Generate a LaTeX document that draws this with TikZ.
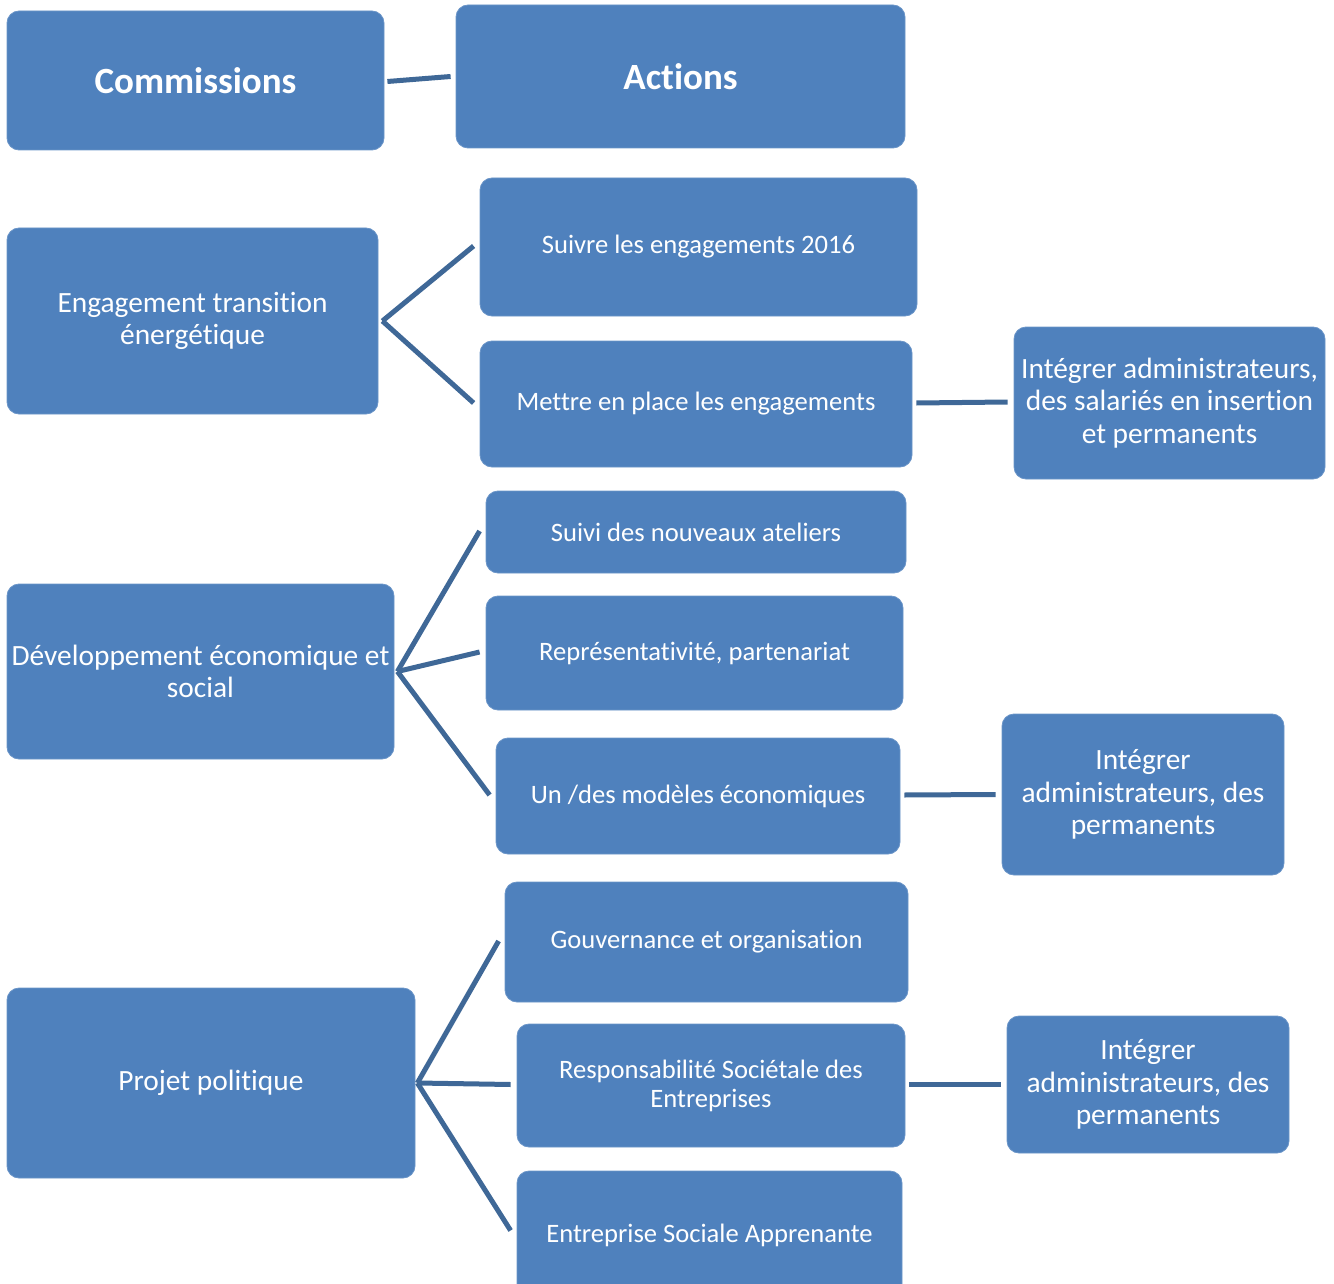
\documentclass[tikz,border=0pt]{standalone}
\usepackage{fontspec}
\setmainfont[Ligatures=NoCommon]{Carlito}
\definecolor{boxblue}{HTML}{4F81BD}
\definecolor{boxedge}{HTML}{6B95C8}
\definecolor{lineblue}{HTML}{3F6897}
\begin{document}
\begin{tikzpicture}[x=1pt,y=-1pt,
  box/.style={rounded corners=12pt, fill=boxblue, draw=boxedge, line width=0.8pt,
    text=white, align=center, inner sep=2pt, font=\fontsize{26.6}{33}\selectfont},
  bigbox/.style={box, font=\fontsize{29.4}{32.5}\selectfont},
  titlebox/.style={box, font=\fontsize{37}{44}\selectfont\bfseries},
  conn/.style={draw=lineblue, line width=5pt}]
\useasboundingbox (0,0) rectangle (1334,1284);
\clip (0,0) rectangle (1334,1284);

% header
\node[titlebox, minimum width=377, minimum height=139] (comm) at (195.5,80.5) {Commissions};
\node[titlebox, minimum width=449, minimum height=143] (act) at (680.5,76.5) {Actions};
\draw[conn] ([xshift=3,yshift=-1]comm.east) -- ([xshift=-5]act.west);

% group 1
\node[bigbox, minimum width=371, minimum height=186] (eng) at (192.5,321) {Engagement transition\\énergétique};
\node[box, minimum width=437, minimum height=138] (suiv) at (698.5,247) {Suivre les engagements 2016};
\node[box, minimum width=432, minimum height=126] (mett) at (696,404) {Mettre en place les engagements};
\node[bigbox, minimum width=311, minimum height=152] (int1) at (1169.5,403) {Intégrer administrateurs,\\des salariés en insertion\\et permanents};
\draw[conn] ([xshift=4]eng.east) -- ([xshift=-6,yshift=1]suiv.west);
\draw[conn] ([xshift=4]eng.east) -- ([xshift=-6,yshift=1]mett.west);
\draw[conn] ([xshift=4,yshift=1]mett.east) -- ([xshift=-6,yshift=1]int1.west);

% group 2
\node[bigbox, minimum width=387, minimum height=175] (dev) at (200.5,671.5) {Développement économique et\\social};
\node[box, minimum width=420, minimum height=82] (ate) at (696,532) {Suivi des nouveaux ateliers};
\node[box, minimum width=417, minimum height=114] (rep) at (694.5,653) {Représentativité, partenariat};
\node[box, minimum width=404, minimum height=116] (mod) at (698,796) {Un /des modèles économiques};
\node[bigbox, minimum width=282, minimum height=161] (int2) at (1143,794.5) {Intégrer\\administrateurs, des\\permanents};
\draw[conn] ([xshift=3]dev.east) -- ([xshift=-6,yshift=1]ate.west);
\draw[conn] ([xshift=3]dev.east) -- ([xshift=-6,yshift=1]rep.west);
\draw[conn] ([xshift=3]dev.east) -- ([xshift=-6,yshift=1]mod.west);
\draw[conn] ([xshift=4,yshift=1]mod.east) -- ([xshift=-6]int2.west);

% group 3
\node[bigbox, minimum width=408, minimum height=190] (proj) at (211,1083) {Projet politique};
\node[box, minimum width=403, minimum height=120] (gouv) at (706.5,942) {Gouvernance et organisation};
\node[box, minimum width=388, minimum height=123, font=\fontsize{26.6}{29}\selectfont] (rse) at (711,1085.5) {Responsabilité Sociétale des\\Entreprises};
\node[box, minimum width=385, minimum height=129] (esa) at (709.5,1235.5) {Entreprise Sociale Apprenante};
\node[bigbox, minimum width=282, minimum height=137] (int3) at (1148,1084.5) {Intégrer\\administrateurs, des\\permanents};
\draw[conn] ([xshift=2]proj.east) -- ([xshift=-6,yshift=1]gouv.west);
\draw[conn] ([xshift=2]proj.east) -- ([xshift=-6,yshift=1]rse.west);
\draw[conn] ([xshift=2]proj.east) -- ([xshift=-6,yshift=5]esa.west);
\draw[conn] ([xshift=4,yshift=1]rse.east) -- ([xshift=-6]int3.west);
\end{tikzpicture}
\end{document}
